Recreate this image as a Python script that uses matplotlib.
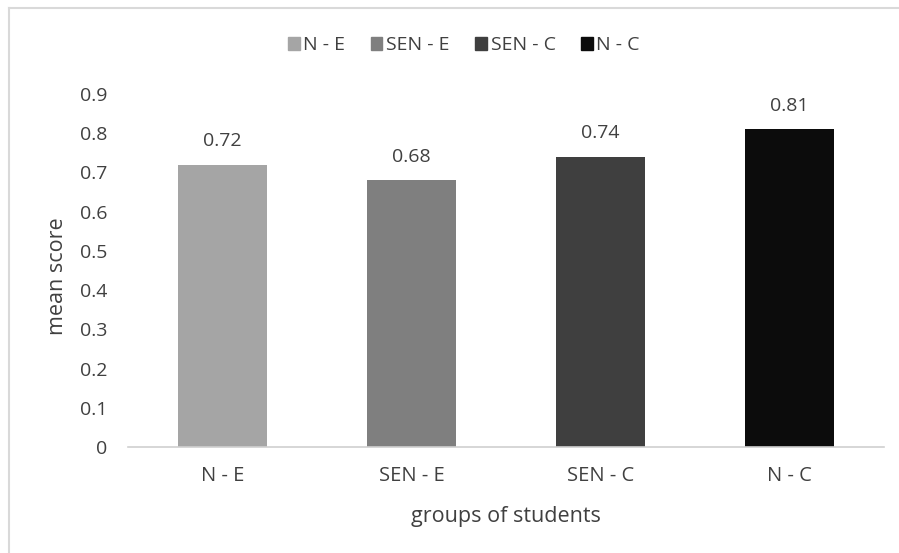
import matplotlib.pyplot as plt
from matplotlib.lines import Line2D

plt.rcParams['font.family'] = ['Open Sans', 'DejaVu Sans']

groups = ['N - E', 'SEN - E', 'SEN - C', 'N - C']
mean_scores = [0.72, 0.68, 0.74, 0.81]
bar_colors = ['#a5a5a5', '#7f7f7f', '#3f3f3f', '#0c0c0c']
yticks = [0, 0.1, 0.2, 0.3, 0.4, 0.5, 0.6, 0.7, 0.8, 0.9]
ytick_labels = ['0', '0.1', '0.2', '0.3', '0.4', '0.5', '0.6', '0.7', '0.8', '0.9']

txt = '#404040'

fig = plt.figure(figsize=(8.99, 5.53), dpi=100)
ax = fig.add_axes([0.1424, 0.1917, 0.8409, 0.6383])

x = range(len(groups))
bars = ax.bar(x, mean_scores, width=0.47, color=bar_colors)

for b, v in zip(bars, mean_scores):
    ax.text(b.get_x() + b.get_width() / 2, v + 0.037, '%.2f' % v,
            ha='center', va='bottom', fontsize=14, color=txt)

ax.set_xlim(-0.5, len(groups) - 0.5)
ax.set_ylim(0, 0.9)
ax.set_xticks(list(x))
ax.set_xticklabels(groups, fontsize=14.5, color=txt)
ax.set_yticks(yticks)
ax.set_yticklabels(ytick_labels, fontsize=14, color=txt)
ax.tick_params(length=0)
ax.tick_params(axis='x', pad=14)
ax.tick_params(axis='y', pad=15)

for s in ['top', 'right', 'left']:
    ax.spines[s].set_visible(False)
ax.spines['bottom'].set_color('#d0d0d0')
ax.spines['bottom'].set_linewidth(1.2)

# axis titles placed in figure coordinates
fig.text(0.1424 + 0.8409 / 2, 0.066, 'groups of students', fontsize=15.5, color=txt,
         ha='center', va='center')
fig.text(0.064, 0.50, 'mean score', fontsize=15.5, color=txt, rotation=90,
         ha='center', va='center')

handles = [plt.Rectangle((0, 0), 1, 1, color=c) for c in bar_colors]
fig.legend(handles, groups, loc='center', bbox_to_anchor=(0.516, 0.918), ncol=4,
           frameon=False, fontsize=14, handlelength=0.6, handleheight=0.6,
           handletextpad=0.2, columnspacing=1.3, labelcolor=txt)

# outer chart frame (left and top edges)
fig.add_artist(Line2D([0.0095, 0.0095], [0.0, 0.985], color='#d9d9d9', lw=1.5,
                      transform=fig.transFigure))
fig.add_artist(Line2D([0.0095, 1.0], [0.985, 0.985], color='#d9d9d9', lw=1.5,
                      transform=fig.transFigure))

fig.savefig('out.png', dpi=100)
